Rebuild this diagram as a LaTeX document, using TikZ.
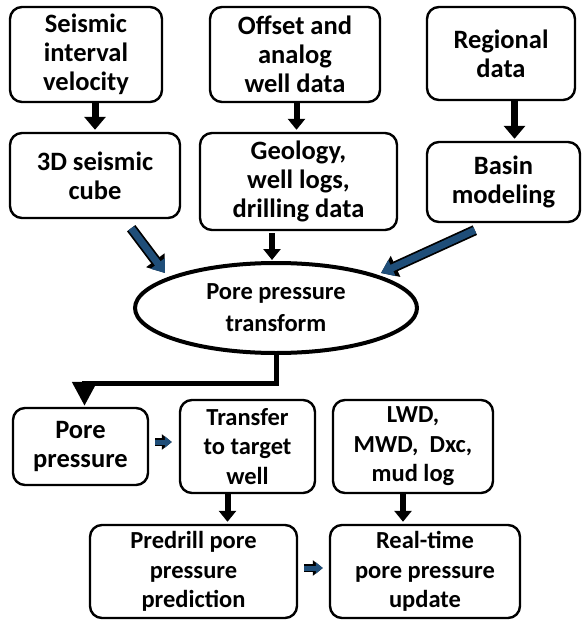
\documentclass[tikz,border=0pt]{standalone}
\usepackage{fontspec}
\setmainfont{Carlito}
\usepackage{tikz}
\usetikzlibrary{arrows.meta,shapes.geometric,positioning,calc}
\definecolor{arrowblue}{HTML}{1F4E79}

\begin{document}
\begin{tikzpicture}[
            x=1pt, y=-1pt,
            every node/.style={align=center},
            box/.style={draw, rounded corners=12pt, line width=2.4pt, inner sep=2pt,
                font=\fontsize{26.5}{29}\selectfont\bfseries},
            lowbox/.style={box, font=\fontsize{24.5}{29.5}\selectfont\bfseries},
            transform/.style={draw, ellipse, line width=4pt, inner sep=0pt,
                font=\fontsize{24.5}{32}\selectfont\bfseries},
            down/.style={line width=7pt, -{Triangle[width=21pt,length=13pt]}},
            shortdown/.style={line width=6pt, -{Triangle[width=17pt,length=11pt]}},
            feed/.style={line width=7pt, draw=arrowblue, -{Triangle[width=17pt,length=12pt]},
                preaction={draw=black, line width=10.5pt, -{Triangle[width=22pt,length=16pt]}}},
            small/.style={line width=5pt, draw=arrowblue, -{Triangle[width=11pt,length=7pt]},
                preaction={draw=black, line width=8pt, -{Triangle[width=15pt,length=10pt]}}}
        ]
        \useasboundingbox (0,0) rectangle (582,620);

        % Draw inputs %
        \node[box, minimum width=152pt, minimum height=95pt] (sv) at (86,54.5) {Seismic\\interval\\velocity};
        \node[box, minimum width=170pt, minimum height=95pt] (off) at (295,54.5) {Offset and\\analog\\well data};
        \node[box, minimum width=148pt, minimum height=93pt] (reg) at (501,53.5) {Regional\\data};

        \node[box, minimum width=170pt, minimum height=85pt] (cube) at (95,175.5) {3D seismic\\cube};
        \node[box, minimum width=197pt, minimum height=97pt] (geo) at (298.5,181.5) {Geology,\\well logs,\\drilling data};
        \node[box, minimum width=153pt, minimum height=80pt] (basin) at (503.5,182) {Basin\\modeling};

        % Draw transform %
        \node[transform, minimum width=282pt, minimum height=90pt] (ppt) at (276,308) {Pore pressure\\transform};

        % Draw outputs %
        \node[box, minimum width=135pt, minimum height=77pt] (pp) at (80.5,446.5) {Pore\\pressure};
        \node[lowbox, minimum width=135pt, minimum height=93pt] (tr) at (247.5,446.5) {Transfer\\to target\\well};
        \node[lowbox, minimum width=160pt, minimum height=93pt] (lwd) at (413,446.5) {LWD,\\MWD,~~Dxc,\\mud log};
        \node[lowbox, minimum width=207pt, minimum height=93pt] (pre) at (193.5,571.5) {Predrill pore\\pressure\\prediction};
        \node[lowbox, minimum width=190pt, minimum height=93pt] (rt) at (425,571.5) {Real-time\\pore pressure\\update};

        % Draw arrows %
        \draw[down] (cube.north |- sv.south) -- ([yshift=2pt]cube.north);
        \draw[shortdown] ([xshift=-2pt]geo.north |- off.south) -- ([xshift=-2pt,yshift=2pt]geo.north);
        \draw[down] ([xshift=11pt]basin.north |- reg.south) -- ([xshift=11pt,yshift=2pt]basin.north);
        \draw[shortdown] ([xshift=-4pt,yshift=-2pt]ppt.north |- geo.south) -- ([xshift=-4pt,yshift=1pt]ppt.north);
        \coordinate (fl) at (165,273);
        \coordinate (fr) at (381,273);
        \draw[feed] (cube.south east) ++(-50,9) coordinate (cl) -- (fl);
        \draw[feed] (basin.south west) ++(49,7) coordinate (cr) -- (fr);

        \draw[line width=5pt, -{Triangle[width=24pt,length=24pt]}] (ppt.south) -- ++(0,28) -| ([xshift=4pt,yshift=1pt]pp.north);

        \draw[small] (pp.east) ++(6,-4.5) -- ([xshift=-7pt,yshift=4.5pt]tr.west);
        \draw[shortdown] ([xshift=-20pt]tr.south) -- ([yshift=2pt,xshift=-20pt]tr.south |- pre.north);
        \draw[shortdown] ([xshift=-10pt]lwd.south) -- ([yshift=2pt,xshift=-10pt]lwd.south |- rt.north);
        \draw[small] (pre.east) ++(6,-3.5) -- ([xshift=-6pt,yshift=3.5pt]rt.west);
        \end{tikzpicture}
\end{document}
